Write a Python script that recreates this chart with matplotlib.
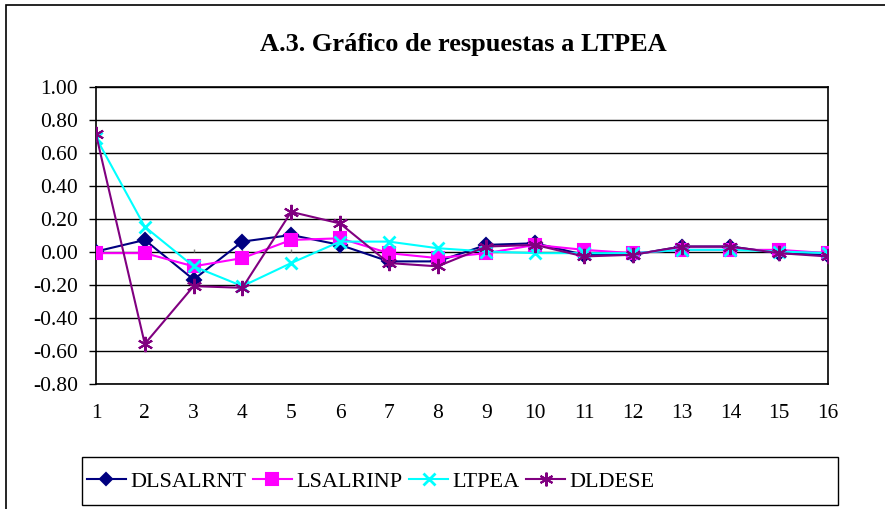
import numpy as np
import matplotlib.pyplot as plt
from matplotlib.patches import Rectangle

plt.rcParams["font.family"] = ["Liberation Serif", "DejaVu Serif"]

# === Data ===
periods = list(range(1, 17))
dlsalrnt = [0.00, 0.07, -0.17, 0.06, 0.10, 0.04, -0.06, -0.06,
            0.04, 0.05, -0.02, -0.02, 0.03, 0.03, -0.01, -0.02]
lsalrinp = [-0.01, -0.01, -0.09, -0.04, 0.07, 0.08, -0.01, -0.04,
            -0.01, 0.04, 0.01, -0.01, 0.01, 0.01, 0.01, -0.01]
ltpea = [0.69, 0.15, -0.09, -0.21, -0.07, 0.06, 0.06, 0.02,
         0.00, -0.01, -0.01, -0.01, 0.01, 0.01, 0.00, -0.01]
dldese = [0.71, -0.56, -0.21, -0.22, 0.24, 0.17, -0.07, -0.09,
          0.03, 0.04, -0.03, -0.02, 0.03, 0.03, -0.01, -0.03]
yticks = [1.0, 0.8, 0.6, 0.4, 0.2, 0.0, -0.2, -0.4, -0.6, -0.8]

series = [
    ("DLSALRNT", dlsalrnt, "#000080", "D", 7, 1.5),
    ("LSALRINP", lsalrinp, "#FF00FF", "s", 9, 1.5),
    ("LTPEA", ltpea, "#00FFFF", "x", 9, 2.0),
    ("DLDESE", dldese, "#800080", (6, 2, 0), 11, 1.5),
]

fig = plt.figure(figsize=(8.85, 5.1), dpi=100)
ax = fig.add_axes([96 / 885, 1 - 384.5 / 510, (828 - 96) / 885, (384.5 - 87.5) / 510])

# outer chart border (left/top visible)
fig.patches.append(Rectangle((6 / 885, -0.1), 1.2, 1 - 6 / 510 + 0.1,
                             transform=fig.transFigure, fill=False,
                             edgecolor="black", linewidth=1.2))

for y in yticks:
    ax.axhline(y, color="black", linewidth=1.0, zorder=1)
ax.vlines(periods, 0, 0.018, color="gray", linewidth=1.0, zorder=1)

handles = []
for name, vals, color, marker, ms, mew in series:
    h, = ax.plot(periods, vals, color=color, linewidth=1.5, marker=marker,
                 markersize=ms, markeredgewidth=mew, label=name, zorder=3)
    handles.append(h)

ax.set_xlim(1, 16)
ax.set_ylim(-0.8, 1.0)
ax.set_xticks(periods)
ax.set_yticks(yticks)
ax.set_yticklabels([f"{v:.2f}" for v in yticks])
ax.tick_params(axis="y", direction="out", length=5, width=1, labelsize=15.5, pad=8)
ax.tick_params(axis="x", length=0, labelsize=15.5, pad=14)
for s in ax.spines.values():
    s.set_linewidth(1.2)

fig.text(463 / 885, 1 - 45 / 510, "A.3. Gráfico de respuestas a LTPEA",
         ha="center", va="center", fontsize=19, fontweight="bold")

# legend box
fig.patches.append(Rectangle((82 / 885, 1 - 506 / 510), (838 - 82) / 885, (506 - 458) / 510,
                             transform=fig.transFigure, fill=False,
                             edgecolor="black", linewidth=1.0))
fig.legend(handles=handles, loc="center left", bbox_to_anchor=(87 / 885, 1 - 482 / 510),
           ncol=4, frameon=False, fontsize=16, handlelength=1.75, handletextpad=0.2,
           columnspacing=0.3, borderaxespad=0, borderpad=0, markerscale=0.9)

fig.savefig("out.png", dpi=100)
